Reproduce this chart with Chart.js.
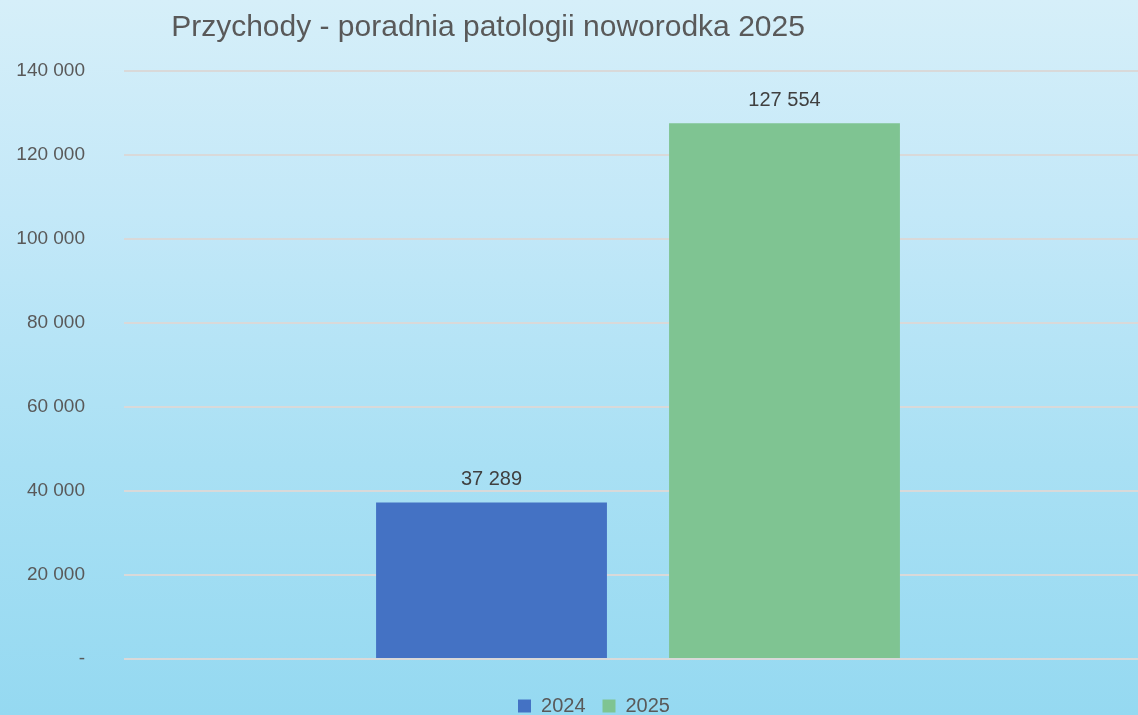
<!DOCTYPE html>
<html>
<head>
<meta charset="utf-8">
<script src="https://cdn.jsdelivr.net/npm/chart.js@4/dist/chart.umd.min.js"></script>
<style>
  html, body { margin: 0; padding: 0; }
  body {
    width: 1138px; height: 715px; overflow: hidden;
    background: linear-gradient(to bottom, #d6eff9 0%, #c3e8f8 30%, #a9e0f4 65%, #95d9f1 100%);
  }
  canvas { display: block; }
</style>
</head>
<body>
<canvas id="c" width="1138" height="715"></canvas>
<script>
const chartTitle = 'Przychody - poradnia patologii noworodka 2025';
const categories = ['Przychody'];
const seriesNames = ['2024', '2025'];
const values2024 = [37289];
const values2025 = [127554];
const seriesColors = ['#4472c4', '#7fc492'];

function fmt(v) {
  if (v === 0) return '-';
  return String(Math.round(v)).replace(/\B(?=(\d{3})+(?!\d))/g, ' ');
}

const titlePlugin = {
  id: 'customTitle',
  afterDraw(chart) {
    const ctx = chart.ctx;
    ctx.save();
    ctx.font = '30px "Liberation Sans", Arial, sans-serif';
    ctx.fillStyle = '#595959';
    ctx.textAlign = 'center';
    ctx.textBaseline = 'alphabetic';
    ctx.fillText(chartTitle, 488, 36);
    ctx.restore();
  }
};

const valueLabels = {
  id: 'valueLabels',
  afterDatasetsDraw(chart) {
    const ctx = chart.ctx;
    ctx.save();
    ctx.font = '20px "Liberation Sans", Arial, sans-serif';
    ctx.fillStyle = '#404040';
    ctx.textAlign = 'center';
    ctx.textBaseline = 'alphabetic';
    chart.data.datasets.forEach((ds, i) => {
      const meta = chart.getDatasetMeta(i);
      meta.data.forEach((el, j) => {
        ctx.fillText(fmt(ds.data[j]), el.x, el.y - 17);
      });
    });
    ctx.restore();
  }
};

// The reference plot area runs past the right edge of the picture
const layoutTweak = {
  id: 'layoutTweak',
  afterLayout(chart) {
    const lg = chart.legend;
    if (lg) { lg.left += 25; lg.right += 25; }
    const xs = chart.scales.x;
    xs.right += 14;
    xs.width += 14;
    xs.configure();
  }
};

new Chart(document.getElementById('c'), {
  type: 'bar',
  data: {
    labels: categories,
    datasets: [
      { label: seriesNames[0], data: values2024, backgroundColor: seriesColors[0] },
      { label: seriesNames[1], data: values2025, backgroundColor: seriesColors[1] }
    ]
  },
  options: {
    responsive: false,
    animation: false,
    devicePixelRatio: 1,
    categoryPercentage: 0.570,
    barPercentage: 0.788,
    layout: { padding: { top: 71, left: 0, right: 0, bottom: -11 } },
    plugins: {
      title: { display: false },
      tooltip: { enabled: false },
      legend: {
        position: 'bottom',
        labels: {
          boxWidth: 13, boxHeight: 13, padding: 17,
          color: '#595959',
          font: { family: '"Liberation Sans", Arial, sans-serif', size: 20 }
        }
      }
    },
    scales: {
      x: {
        grid: { display: false },
        border: { display: false },
        ticks: { display: false },
        afterFit(s) { s.height = 20; }
      },
      y: {
        min: 0, max: 140000,
        ticks: {
          stepSize: 20000,
          padding: 39,
          color: '#595959',
          font: { family: '"Liberation Sans", Arial, sans-serif', size: 19 },
          callback: (v) => fmt(v)
        },
        grid: { color: '#d9d9d9', lineWidth: 2, drawTicks: false },
        border: { display: false },
        afterFit(s) { s.width = 124; }
      }
    }
  },
  plugins: [titlePlugin, valueLabels, layoutTweak]
});
</script>
</body>
</html>
